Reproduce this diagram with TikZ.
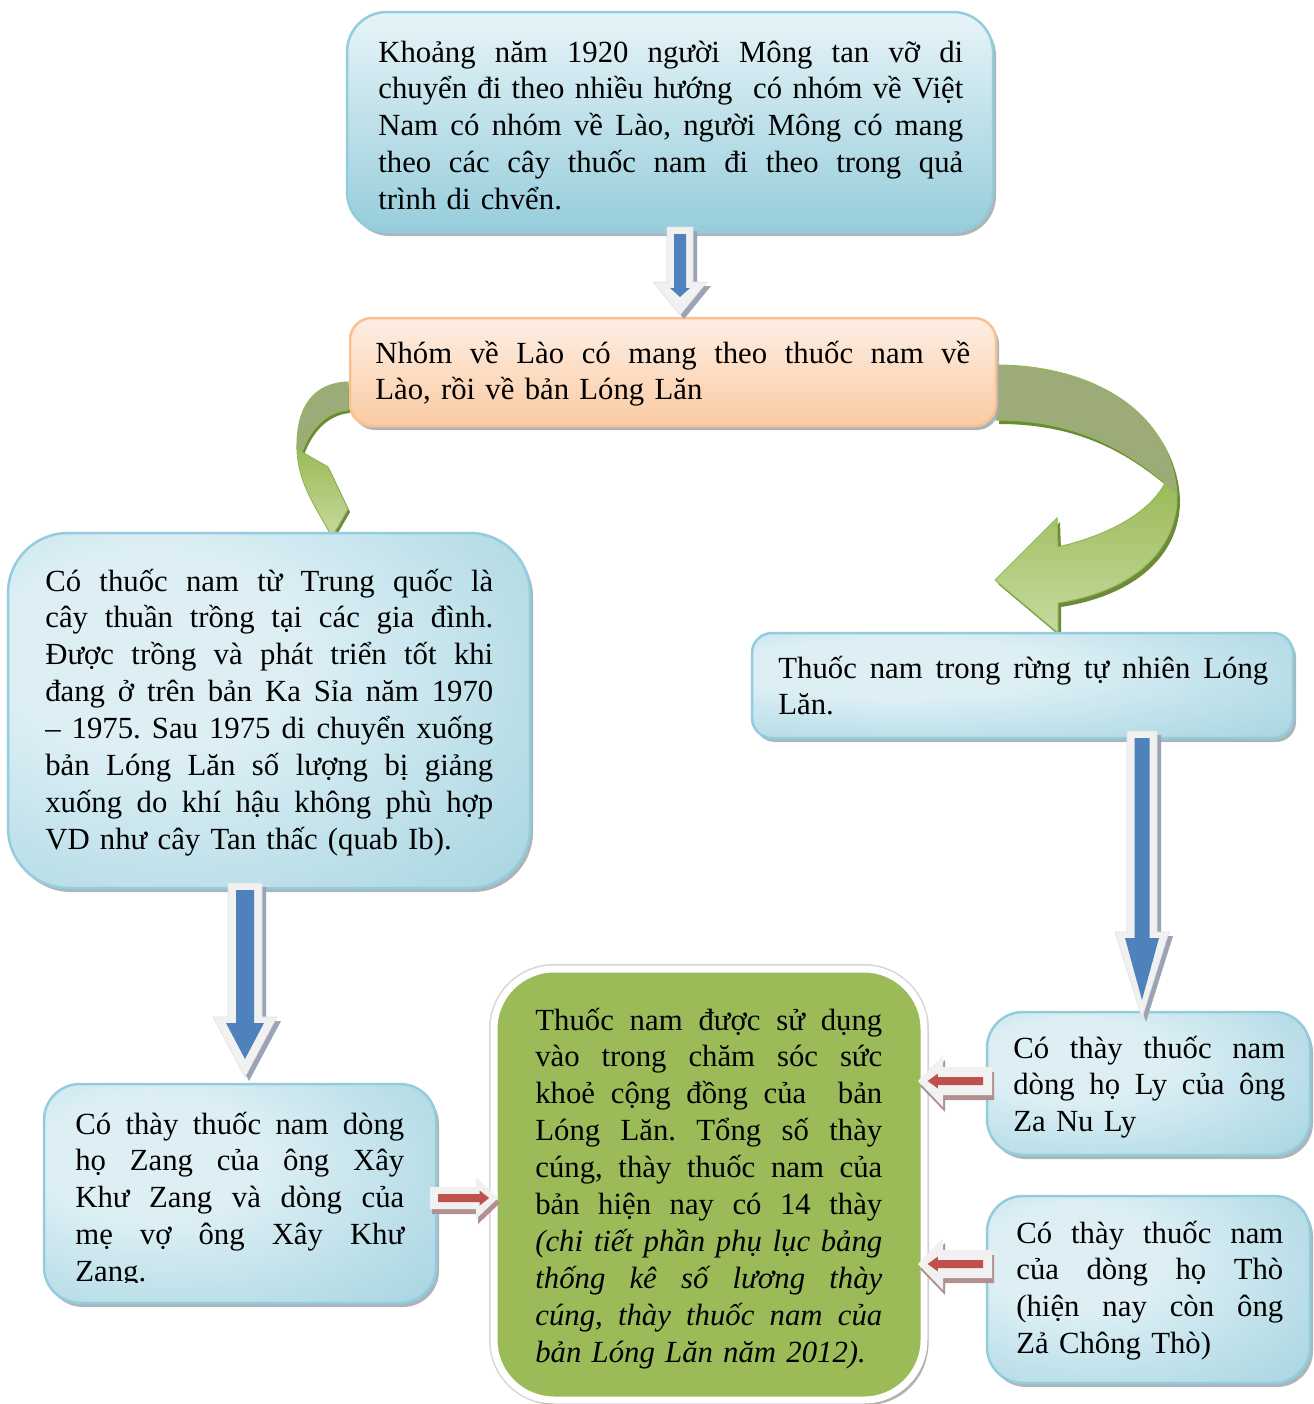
\documentclass[tikz,border=0pt]{standalone}
\usepackage{fontspec}
\setmainfont{Liberation Serif}
\usetikzlibrary{positioning,fit,shadows}

\newlength\px
\setlength\px{0.02cm}
\def\boxw{10cm}

\definecolor{boxblueL}{HTML}{DDEFF5}
\definecolor{boxblueD}{HTML}{96CDDB}
\definecolor{edgeblue}{HTML}{93CDDD}
\definecolor{boxorangeL}{HTML}{FDEEE4}
\definecolor{boxorangeD}{HTML}{FBCBA2}
\definecolor{edgeorange}{HTML}{FAC090}
\definecolor{boxgreen}{HTML}{9BBB59}
\definecolor{shadowgrey}{HTML}{A3ADB2}
\definecolor{arrowwhite}{HTML}{F1F1F1}
\definecolor{arrowgrey}{HTML}{9AA4B4}
\definecolor{arrowblue}{HTML}{4F81BD}
\definecolor{arrowred}{HTML}{C0504D}
\definecolor{redshade}{HTML}{B09090}
\definecolor{ribbonback}{HTML}{9CAB78}
\definecolor{ribbonL}{HTML}{C6DA9E}
\definecolor{ribbonedge}{HTML}{93B85A}
\definecolor{ribbonshade}{HTML}{6C8A38}

\pgfdeclareradialshading{bluesheen}{\pgfpoint{-14bp}{10bp}}{%
  color(0bp)=(boxblueL); color(14bp)=(boxblueL);
  color(52bp)=(boxblueD); color(80bp)=(boxblueD)}

% one justified line, and one last (ragged) line
\newcommand{\jline}[1]{\hbox to\boxw{\spaceskip=.25em plus 1em minus .05em\relax\strut#1}\par}
\newcommand{\lline}[1]{\hbox{\strut#1}\par}

% block arrow pointing down: x, top, head base, tip, shaft half, head half, inner shaft half, inner head half
\newcommand{\bluearrow}[8]{%
  \fill[arrowgrey, shift={(4,4)}] ({#1-#5},#2) -- ({#1+#5},#2) -- ({#1+#5},#3) -- ({#1+#6},#3)
    -- (#1,#4) -- ({#1-#6},#3) -- ({#1-#5},#3) -- cycle;
  \filldraw[fill=arrowwhite, draw=black!12, line width=0.6\px] ({#1-#5},#2) -- ({#1+#5},#2) -- ({#1+#5},#3)
    -- ({#1+#6},#3) -- (#1,#4) -- ({#1-#6},#3) -- ({#1-#5},#3) -- cycle;
  \fill[arrowblue] ({#1-#7},{#2+7}) -- ({#1+#7},{#2+7}) -- ({#1+#7},{#3+6}) -- ({#1+#8},{#3+6})
    -- (#1,{#4-18}) -- ({#1-#8},{#3+6}) -- ({#1-#7},{#3+6}) -- cycle;}

% small horizontal block arrow: start, head base, tip, y, shaft half, head half
\newcommand{\redarrow}[6]{%
  \pgfmathsetmacro\redA{#1+0.12*(#3-#1)}
  \pgfmathsetmacro\redB{#3-0.27*(#3-#1)}
  \pgfmathsetmacro\redC{#3-0.13*(#3-#1)}
  \fill[redshade, shift={(2,5)}] (#1,{#4-#5}) -- (#2,{#4-#5}) -- (#2,{#4-#6}) -- (#3,#4)
    -- (#2,{#4+#6}) -- (#2,{#4+#5}) -- (#1,{#4+#5}) -- cycle;
  \fill[arrowwhite] (#1,{#4-#5}) -- (#2,{#4-#5}) -- (#2,{#4-#6}) -- (#3,#4)
    -- (#2,{#4+#6}) -- (#2,{#4+#5}) -- (#1,{#4+#5}) -- cycle;
  \fill[arrowred] (\redA,{#4-4}) -- (\redB,{#4-4}) -- (\redB,{#4-7.5}) -- (\redC,#4)
    -- (\redB,{#4+7.5}) -- (\redB,{#4+4}) -- (\redA,{#4+4}) -- cycle;}

\begin{document}
\begin{tikzpicture}
  [
    x=\px, y=-\px,
    boxtext/.style = {anchor=base west, inner sep=0pt,
      font=\fontsize{17.5pt}{21pt}\selectfont\frenchspacing},
    panel/.style = {inner sep=0pt, line width=2.5\px,
      drop shadow={shadow xshift=3\px, shadow yshift=-4\px, fill=shadowgrey, opacity=.9}},
    bluebox/.style = {panel, draw=edgeblue, shading=bluesheen},
    ribbon/.style = {draw=ribbonedge, line width=1\px}
  ]

  \path[fill=white] (0,0) rectangle (1314,1404);
  \useasboundingbox (0,0) rectangle (1314,1404);

  % curved green arrows behind the boxes
  \fill[ribbonshade, shift={(2,3)}] (348,382) .. controls (315,383) and (296,405) .. (297,449)
    .. controls (298,485) and (318,510) .. (332,537) -- (348,509) -- (328,467) -- (302,452)
    .. controls (310,430) and (325,412) .. (348,410) -- cycle;
  \filldraw[ribbon, fill=ribbonback] (348,382) .. controls (315,383) and (296,405) .. (297,449)
    -- (302,452) .. controls (310,430) and (325,412) .. (348,410) -- cycle;
  \filldraw[ribbon, top color=boxgreen, bottom color=ribbonL] (297,449)
    .. controls (298,485) and (318,510) .. (332,537) -- (348,509) -- (328,467) -- (302,452) -- cycle;

  \fill[ribbonshade, shift={(3,4)}] (996,365) .. controls (1090,365) and (1172,410) .. (1177,495)
    .. controls (1178,545) and (1140,590) .. (1058,603) -- (1058,633) -- (995,580) -- (1057,518)
    -- (1058,547) .. controls (1110,535) and (1150,512) .. (1165,483)
    .. controls (1120,445) and (1070,420) .. (996,420) -- cycle;
  \filldraw[ribbon, fill=ribbonback] (996,365) .. controls (1090,365) and (1172,410) .. (1177,495)
    -- (1165,483) .. controls (1120,445) and (1070,420) .. (996,420) -- cycle;
  \filldraw[ribbon, top color=boxgreen, bottom color=ribbonL] (1165,483) -- (1177,495)
    .. controls (1178,545) and (1140,590) .. (1058,603) -- (1058,633) -- (995,580) -- (1057,518)
    -- (1058,547) .. controls (1110,535) and (1150,512) .. (1165,483) -- cycle;

  % boxes
  \node[panel, draw=edgeblue, top color=boxblueL!70!white, bottom color=boxblueD,
    rounded corners=40\px, fit={(347,12) (993,232)}] (origin) {};
  \node[panel, draw=edgeorange, top color=boxorangeL, bottom color=boxorangeD,
    rounded corners=22\px, fit={(350,318) (996,426)}] (laos) {};
  \node[bluebox, rounded corners=60\px, fit={(8,533) (530,888)}] (china) {};
  \node[bluebox, rounded corners=20\px, fit={(752,633) (1293,738)}] (forest) {};
  \node[bluebox, rounded corners=36\px, fit={(44,1084) (436,1303)}] (zang) {};
  \node[inner sep=0pt, fill=boxgreen, draw=white, line width=7\px, rounded corners=60\px,
    preaction={draw=black!16, line width=10\px},
    drop shadow={shadow xshift=4\px, shadow yshift=-5\px, fill=black!35, opacity=.8},
    fit={(494,969) (924,1400)}] (use) {};
  \node[bluebox, rounded corners=36\px, fit={(987,1012) (1310,1155)}] (ly) {};
  \node[bluebox, rounded corners=36\px, fit={(987,1196) (1310,1383)}] (tho) {};

  % texts
  \gdef\boxw{11.7cm}
  \node[boxtext, text width=11.7cm] (originText) at (378,62) {%
    \jline{Khoảng năm 1920 người Mông tan vỡ di}
    \jline{chuyển đi theo nhiều hướng \ có nhóm về Việt}
    \jline{Nam có nhóm về Lào, người Mông có mang}
    \jline{theo các cây thuốc nam đi theo trong quả}
    \lline{trình di chvển.}};
  \gdef\boxw{11.9cm}
  \node[boxtext, text width=11.9cm] (laosText) at (375,363) {%
    \jline{Nhóm về Lào có mang theo thuốc nam về}
    \lline{Lào, rồi về bản Lóng Lăn}};
  \gdef\boxw{8.96cm}
  \node[boxtext, text width=8.96cm] (chinaText) at (45,591) {%
    \jline{Có thuốc nam từ Trung quốc là}
    \jline{cây thuần trồng tại các gia đình.}
    \jline{Được trồng và phát triển tốt khi}
    \jline{đang ở trên bản Ka Sỉa năm 1970}
    \jline{– 1975. Sau 1975 di chuyển xuống}
    \jline{bản Lóng Lăn số lượng bị giảng}
    \jline{xuống do khí hậu không phù hợp}
    \lline{VD như cây Tan thấc (quab Ib).}};
  \gdef\boxw{9.8cm}
  \node[boxtext, text width=9.8cm] (forestText) at (778,678) {%
    \jline{Thuốc nam trong rừng tự nhiên Lóng}
    \lline{Lăn.}};
  \gdef\boxw{6.58cm}
  \begin{scope}
    \clip (44,1084) rectangle (436,1282);
    \node[boxtext, text width=6.58cm] (zangText) at (75,1134) {%
      \jline{Có thày thuốc nam dòng}
      \jline{họ Zang của ông Xây}
      \jline{Khư Zang và dòng của}
      \jline{mẹ vợ ông Xây Khư}
      \lline{Zang.}};
  \end{scope}
  \gdef\boxw{6.94cm}
  \node[boxtext, text width=6.94cm] (useText) at (535,1030) {%
    \jline{Thuốc nam được sử dụng}
    \jline{vào trong chăm sóc sức}
    \jline{khoẻ cộng đồng của \ bản}
    \jline{Lóng Lăn. Tổng số thày}
    \jline{cúng, thày thuốc nam của}
    \jline{bản hiện nay có 14 thày}
    \jline{\itshape (chi tiết phần phụ lục bảng}
    \jline{\itshape thống kê số lương thày}
    \jline{\itshape cúng, thày thuốc nam của}
    \lline{\itshape bản Lóng Lăn năm 2012).}};
  \gdef\boxw{5.44cm}
  \node[boxtext, text width=5.44cm] (lyText) at (1013,1058) {%
    \jline{Có thày thuốc nam}
    \jline{dòng họ Ly của ông}
    \lline{Za Nu Ly}};
  \gdef\boxw{5.34cm}
  \node[boxtext, text width=5.34cm] (thoText) at (1016,1243) {%
    \jline{Có thày thuốc nam}
    \jline{của dòng họ Thò}
    \jline{(hiện nay còn ông}
    \lline{Zả Chông Thò)}};

  % straight block arrows
  \bluearrow{680}{227}{282}{315}{13}{27}{6}{10}
  \bluearrow{245}{883}{1017}{1077}{17}{32}{9}{19}
  \bluearrow{1142}{731}{932}{1018}{15}{27}{7.5}{17}

  \redarrow{992}{943}{918}{1081}{14}{26}
  \redarrow{992}{943}{918}{1264}{14}{26}
  \redarrow{430}{476}{498}{1198}{11}{21}

\end{tikzpicture}
\end{document}
